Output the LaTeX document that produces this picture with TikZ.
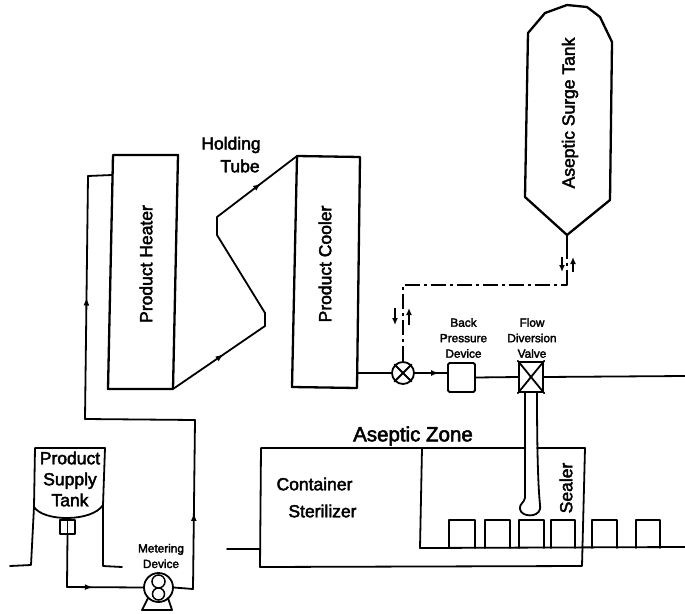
\documentclass[tikz,border=0pt]{standalone}
\usepackage{fontspec}
\setmainfont[FakeBold=2.5]{Liberation Sans}
\usetikzlibrary{decorations.markings,arrows.meta}
\tikzset{
  pipe/.style={line width=1.8pt,line join=round,line cap=round},
  wall/.style={line width=2.3pt,line join=round},
  flowmid/.style={postaction={decorate},decoration={markings,mark=at position #1 with {\arrow{Latex[length=8pt,width=6pt]}}}},
  label/.style={inner sep=0pt,align=center,font=\fontsize{17.5}{21}\selectfont},
  vlabel/.style={label,rotate=90},
  tiny/.style={inner sep=0pt,align=center,font=\fontsize{11.8}{15.5}\selectfont},
  dashpipe/.style={line width=1.9pt,dash pattern=on 15pt off 4pt on 3pt off 4pt},
  smallarrow/.style={line width=1.6pt,-{Latex[length=7pt,width=6pt]}},
}
\begin{document}
\begin{tikzpicture}[x=1pt,y=-1pt]
\useasboundingbox (0,0) rectangle (685,613);
% junction points
\coordinate (hTL) at (113,155); \coordinate (hTR) at (178,155);
\coordinate (hBR) at (173,389); \coordinate (hBL) at (108,389);
\coordinate (cTL) at (297,156); \coordinate (cTR) at (360,157);
\coordinate (cBR) at (357,388); \coordinate (cBL) at (292,387);
\coordinate (feedIn) at (112,175);
\coordinate (tk1) at (35,448); \coordinate (tk2) at (105,448);
\coordinate (tk3) at (103,505); \coordinate (tk4) at (34,507);
\coordinate (tip) at (567,235);
\coordinate (tubeL) at (525,392); \coordinate (tubeR) at (537,392);
% heater, cooler
\draw[wall] (hTL) -- (hTR) -- (hBR) -- (hBL) -- cycle;
\draw[wall] (cTL) -- (cTR) -- (cBR) -- (cBL) -- cycle;
\node[vlabel] (heater) at (146,264) {Product Heater};
\node[vlabel] (cooler) at (325,264) {Product Cooler};
\node[label] (hold) at (231,145) {Holding};
\node[label] (tube) at (240,166) {Tube};
% holding tube
\coordinate (z1) at (265,326); \coordinate (z2) at (265,313);
\coordinate (z3) at (217,235); \coordinate (z4) at (217,217);
\draw[pipe,flowmid=0.55] (hBR) -- (z1);
\draw[pipe] (z1) -- (z2) -- (z3) -- (z4);
\draw[pipe,flowmid=0.55] (z4) -- (cTL);
% supply tank
\draw[pipe] (10,566) -- (31,565) -- (tk4) -- (tk1) -- (tk2) -- (tk3) -- (103,566) -- (122,567);
\draw[pipe] (tk4) .. controls (44,522) and (92,522) .. (tk3);
\node[draw,pipe,minimum width=15pt,minimum height=14pt,inner sep=0pt] (outlet) at (67.5,527) {};
\draw[pipe] (outlet.north) -- (outlet.south);
\node[label] (supply) at (70,479) {Product\\Supply\\Tank};
% pump
\node[draw,pipe,circle,minimum size=29pt,inner sep=0pt] (pump) at (158.5,587.5) {};
\draw[line width=1.5pt] (158.5,581.5) circle (6.5pt);
\draw[line width=1.5pt] (158.5,594) circle (6pt);
\draw[pipe] (148,598) -- (142,610) -- (172,610) -- (168,598);
\node[tiny] (meter) at (161,556) {Metering\\Device};
% feed lines
\coordinate (f1) at (67,587); \coordinate (f2) at (193,589);
\coordinate (f3) at (195,420); \coordinate (f4) at (85,419); \coordinate (f5) at (88,176);
\draw[pipe] (outlet.south) -- (f1);
\draw[pipe,flowmid=0.34] (f1) -- (pump.west);
\draw[pipe] (pump.east) -- (f2);
\draw[pipe,flowmid=0.45] (f2) -- (f3);
\draw[pipe] (f3) -- (f4);
\draw[pipe,flowmid=0.5] (f4) -- (f5);
\draw[pipe] (f5) -- (feedIn);
% valve, back pressure device, diversion valve
\node[draw,pipe,circle,minimum size=22pt,inner sep=0pt] (valve) at (403,373) {};
\draw[pipe] (valve.north east) -- (valve.south west);
\draw[pipe] (valve.north west) -- (valve.south east);
\node[draw,pipe,rounded corners=1.5pt,minimum width=27pt,minimum height=29pt,inner sep=0pt] (bp) at (461.5,377.5) {};
\node[draw,wall,minimum width=24pt,minimum height=30pt,inner sep=0pt] (fdv) at (531,377) {};
\draw[pipe] (fdv.north east) -- (fdv.south west);
\draw[pipe] (fdv.north west) -- (fdv.south east);
\coordinate (coolOut) at (358,373); \coordinate (outEnd) at (685,376);
\draw[pipe] (coolOut) -- (valve.west);
\draw[pipe,flowmid=0.75] (valve.east) -- (bp.west |- valve.east);
\draw[pipe] (bp.east) -- (fdv.west);
\draw[pipe] (fdv.east) -- (outEnd);
\node[tiny] (bpl) at (463.5,338) {Back\\Pressure\\Device};
\node[tiny] (fdl) at (532,338) {Flow\\Diversion\\Valve};
% surge tank
\draw[wall] (tip) -- (525,197) -- (528,33) -- (545,13) -- (567,5) -- (587,7) -- (600,17) -- (612,42) -- (610,200) -- cycle;
\node[vlabel] (surge) at (570,113) {Aseptic Surge Tank};
% dash-dot line
\coordinate (d1) at (403,285); \coordinate (d2) at (567,285);
\coordinate (d3) at (567,273); \coordinate (d4) at (567,256);
\draw[dashpipe] (valve.north) -- (d1) -- (d2);
\draw[pipe] (d2) -- (d3);
\draw[line width=1.8pt,dash pattern=on 3pt off 4pt] (d3) -- (d4);
\draw[pipe] (d4) -- (tip);
\coordinate (a1) at (395,308); \coordinate (a2) at (395,325);
\coordinate (a3) at (409,325); \coordinate (a4) at (409,308);
\coordinate (a5) at (562,257); \coordinate (a6) at (562,272);
\coordinate (a7) at (573,272); \coordinate (a8) at (573,257);
\draw[smallarrow] (a1) -- (a2);
\draw[smallarrow] (a3) -- (a4);
\draw[smallarrow] (a5) -- (a6);
\draw[smallarrow] (a7) -- (a8);
% aseptic zone
\coordinate (zTL) at (261,448); \coordinate (zTR) at (585,448);
\coordinate (zBR) at (582,566); \coordinate (zBL) at (260,567);
\coordinate (iT) at (422,448); \coordinate (iB) at (420,548);
\coordinate (belt) at (685,547); \coordinate (lead) at (227,549);
\draw[pipe] (tubeL |- zTL) -- (zTL) -- (zBL) -- (zBR) -- (zTR) -- (tubeR |- zTL);
\draw[pipe] (lead) -- (zBL |- lead);
\draw[pipe] (iT) -- (iB) -- (belt);
\node[label,font=\fontsize{20.5}{22}\selectfont] (zone) at (413,436) {Aseptic Zone};
\node[label] (cont) at (314.5,484) {Container};
\node[label] (ster) at (322.5,511) {Sterilizer};
\node[vlabel] (sealer) at (566,488) {Sealer};
% filler tube
\draw[pipe] (tubeL) -- (525,498) .. controls (524,503) and (519,504) .. (520,509)
  .. controls (521,517) and (538,518) .. (540,509) .. controls (541,504) and (537,503) .. (tubeR);
% containers
\foreach \n/\l/\r in {c1/449/475,c2/485/510,c3/519/544,c4/551/575,c5/592/617,c6/636/660}{
  \coordinate (\n a) at (\l,548); \coordinate (\n b) at (\r,548);
  \draw[pipe] (\n a) -- (\l,520) -- (\r,520) -- (\n b);
}
\end{tikzpicture}
\end{document}
